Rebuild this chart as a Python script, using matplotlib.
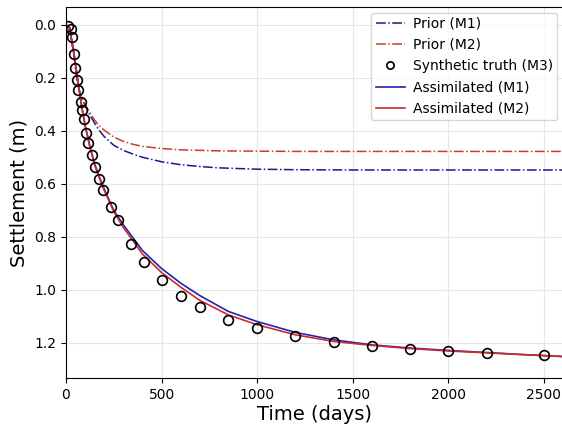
import matplotlib
matplotlib.use("Agg")
import matplotlib.pyplot as plt

# synthetic truth (M3) observations
truth_t = [12, 25, 32, 40, 47, 55, 64, 76, 84, 92, 103, 117, 134, 152, 172, 192,
           235, 270, 340, 410, 500, 600, 700, 850, 1000, 1200, 1400, 1600, 1800,
           2000, 2200, 2500]
truth_s = [0.004, 0.017, 0.048, 0.111, 0.164, 0.208, 0.245, 0.29, 0.32, 0.355,
           0.409, 0.446, 0.49, 0.538, 0.582, 0.623, 0.688, 0.738, 0.828, 0.895,
           0.965, 1.023, 1.065, 1.113, 1.146, 1.176, 1.199, 1.213, 1.223, 1.230,
           1.238, 1.246]

# prior runs
prior_t = [0, 20, 40, 60, 75, 90, 100, 125, 150, 175, 200, 250, 300, 350, 400,
           500, 600, 700, 800, 1000, 1200, 1500, 2000, 2600]
prior_m1 = [0.0, 0.01, 0.11, 0.22, 0.265, 0.29, 0.305, 0.34, 0.372, 0.40, 0.422,
            0.455, 0.474, 0.488, 0.5, 0.517, 0.528, 0.535, 0.540, 0.545, 0.547,
            0.548, 0.548, 0.548]
prior_m2 = [0.0, 0.01, 0.11, 0.22, 0.265, 0.288, 0.30, 0.333, 0.36, 0.382, 0.398,
            0.424, 0.44, 0.451, 0.459, 0.467, 0.472, 0.474, 0.476, 0.477, 0.478,
            0.478, 0.478, 0.478]

# assimilated runs
assim_t = [0, 20, 40, 60, 80, 100, 125, 150, 175, 200, 250, 300, 400, 500, 600,
           700, 850, 1000, 1200, 1400, 1600, 1800, 2000, 2200, 2400, 2600]
assim_m1 = [0.0, 0.02, 0.10, 0.20, 0.30, 0.38, 0.46, 0.525, 0.575, 0.62, 0.70,
            0.755, 0.852, 0.92, 0.975, 1.022, 1.082, 1.12, 1.161, 1.189, 1.208,
            1.22, 1.229, 1.237, 1.245, 1.252]
assim_m2 = [0.0, 0.02, 0.10, 0.20, 0.30, 0.38, 0.46, 0.53, 0.58, 0.625, 0.705,
            0.765, 0.865, 0.935, 0.99, 1.04, 1.095, 1.132, 1.17, 1.195, 1.21,
            1.222, 1.231, 1.238, 1.245, 1.252]

fig = plt.figure(figsize=(5.62, 4.28), dpi=100)
ax = fig.add_axes([66 / 562, 50 / 428, 497 / 562, 371 / 428])

ax.plot(prior_t, prior_m1, color="#1a1a8c", ls="-.", lw=1.1, label="Prior (M1)")
ax.plot(prior_t, prior_m2, color="#cc3a33", ls="-.", lw=1.1, label="Prior (M2)")
ax.plot(truth_t, truth_s, "o", mfc="none", mec="black", mew=1.2, ms=7,
        label="Synthetic truth (M3)", zorder=5)
ax.plot(assim_t, assim_m1, color="#2323b0", lw=1.2, label="Assimilated (M1)")
ax.plot(assim_t, assim_m2, color="#d02a2a", lw=1.2, label="Assimilated (M2)")

ax.set_xlim(0, 2600)
ax.set_ylim(1.333, -0.067)
ax.set_xticks([0, 500, 1000, 1500, 2000, 2500])
ax.set_yticks([0.0, 0.2, 0.4, 0.6, 0.8, 1.0, 1.2])
ax.tick_params(labelsize=10)
ax.grid(True, color="#e6e6e6", lw=0.8)
ax.set_axisbelow(True)
ax.set_xlabel("Time (days)", fontsize=14, labelpad=2)
ax.set_ylabel("Settlement (m)", fontsize=14)
ax.legend(loc="upper right", fontsize=10, handlelength=2.1, handletextpad=0.6,
          labelspacing=0.52, borderpad=0.3, borderaxespad=0.4, markerscale=0.75)

fig.savefig("out.png", dpi=100)
